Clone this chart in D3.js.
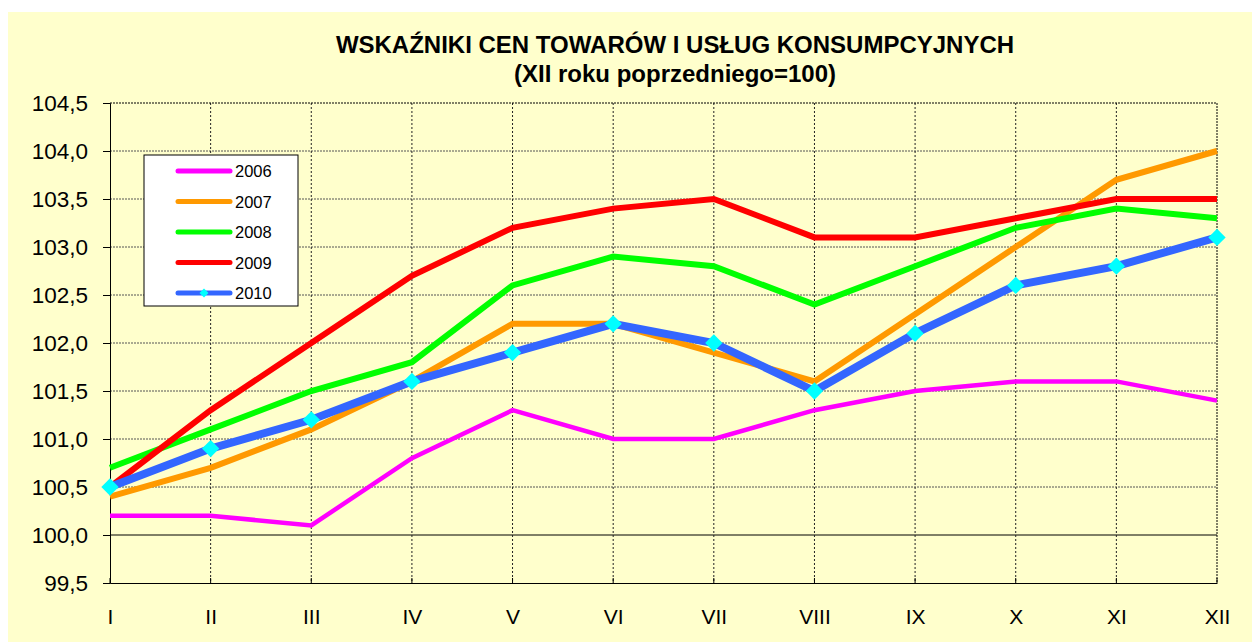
<!DOCTYPE html>
<html><head><meta charset="utf-8">
<script src="https://cdn.jsdelivr.net/npm/d3@7"></script>
<style>body{margin:0;background:#fff;}svg{display:block;font-family:Arial,"Liberation Sans",sans-serif;}</style>
</head><body><svg id="c" width="1252" height="642"></svg>
<script>
const months = ["I","II","III","IV","V","VI","VII","VIII","IX","X","XI","XII"];
const yTicks = [99.5,100.0,100.5,101.0,101.5,102.0,102.5,103.0,103.5,104.0,104.5];
const v2006 = [100.2,100.2,100.1,100.8,101.3,101.0,101.0,101.3,101.5,101.6,101.6,101.4];
const v2007 = [100.4,100.7,101.1,101.6,102.2,102.2,101.9,101.6,102.3,103.0,103.7,104.0];
const v2008 = [100.7,101.1,101.5,101.8,102.6,102.9,102.8,102.4,102.8,103.2,103.4,103.3];
const v2009 = [100.5,101.3,102.0,102.7,103.2,103.4,103.5,103.1,103.1,103.3,103.5,103.5];
const v2010 = [100.5,100.9,101.2,101.6,101.9,102.2,102.0,101.5,102.1,102.6,102.8,103.1];
const seriesNames = ["2006","2007","2008","2009","2010"];

const series = [
  {name:seriesNames[0], values:v2006, color:"#FF00FF", width:4.5},
  {name:seriesNames[1], values:v2007, color:"#FF9900", width:6},
  {name:seriesNames[2], values:v2008, color:"#00FF00", width:6},
  {name:seriesNames[3], values:v2009, color:"#FF0000", width:6},
  {name:seriesNames[4], values:v2010, color:"#3366FF", width:8, marker:true}
];

const svg = d3.select("#c");
svg.append("rect").attr("x",8).attr("y",12).attr("width",1244).attr("height",630).attr("fill","#FFFFCC");

const L=110,R=1217,T=103,B=583;
const x = d3.scalePoint().domain(months).range([L,R]);
const y = d3.scaleLinear().domain([99.5,104.5]).range([B,T]);

// title
svg.append("text").attr("x",675).attr("y",53).attr("text-anchor","middle")
  .attr("font-size",24).attr("font-weight","bold").text("WSKAŹNIKI CEN TOWARÓW I USŁUG KONSUMPCYJNYCH");
svg.append("text").attr("x",675).attr("y",82).attr("text-anchor","middle")
  .attr("font-size",24).attr("font-weight","bold").text("(XII roku poprzedniego=100)");

// grid
const g = svg.append("g");
g.selectAll("line.h").data(yTicks.filter(d=>d>99.5 && d<104.5)).join("line")
  .attr("x1",L).attr("x2",R).attr("y1",d=>y(d)).attr("y2",d=>y(d))
  .attr("stroke",d=>d===100?"#000":"#555").attr("stroke-width",1)
  .attr("stroke-dasharray",d=>d===100?null:"2,1");
g.selectAll("line.v").data(months.slice(1,11)).join("line")
  .attr("x1",d=>x(d)).attr("x2",d=>x(d)).attr("y1",T).attr("y2",B)
  .attr("stroke","#222").attr("stroke-width",1).attr("stroke-dasharray","2,2");
// frame
g.append("line").attr("x1",L).attr("x2",R).attr("y1",T).attr("y2",T).attr("stroke","#000").attr("stroke-dasharray","2,1");
g.append("line").attr("x1",R).attr("x2",R).attr("y1",T).attr("y2",B).attr("stroke","#000").attr("stroke-dasharray","2,1");

// y axis
const ya = svg.append("g").attr("transform",`translate(${L},0)`)
  .call(d3.axisLeft(y).tickValues(yTicks).tickSize(7).tickPadding(15)
    .tickFormat(d=>d3.format(".1f")(d).replace(".",",")));
ya.select(".domain").attr("stroke","#000");
ya.selectAll("text").attr("font-size",22.5).attr("font-family","Arial, 'Liberation Sans', sans-serif").attr("fill","#000");
// x axis
const xa = svg.append("g").attr("transform",`translate(0,${B})`)
  .call(d3.axisBottom(x).tickSize(0).tickPadding(26));
xa.select(".domain").attr("stroke","#000");
xa.selectAll("text").attr("font-size",21).attr("font-family","Arial, 'Liberation Sans', sans-serif").attr("fill","#000");
svg.append("g").selectAll("line").data(months).join("line")
  .attr("x1",d=>x(d)).attr("x2",d=>x(d)).attr("y1",B-5).attr("y2",B).attr("stroke","#000");

// lines
const line = d3.line().x((d,i)=>x(months[i])).y(d=>y(d));
series.forEach(s=>{
  svg.append("path").datum(s.values).attr("d",line).attr("fill","none")
    .attr("stroke",s.color).attr("stroke-width",s.width).attr("stroke-linejoin","miter");
  if(s.marker){
    svg.append("g").selectAll("path").data(s.values).join("path")
      .attr("d",d3.symbol(d3.symbolSquare,150)())
      .attr("transform",(d,i)=>`translate(${x(months[i])},${y(d)}) rotate(45)`)
      .attr("fill","#00FFFF");
  }
});

// legend
const lg = svg.append("g");
lg.append("rect").attr("x",144).attr("y",155).attr("width",154).attr("height",151)
  .attr("fill","#fff").attr("stroke","#000").attr("stroke-width",1);
series.forEach((s,i)=>{
  const yy = 171 + i*30.5;
  lg.append("line").attr("x1",178).attr("x2",230).attr("y1",yy).attr("y2",yy)
    .attr("stroke",s.color).attr("stroke-width",5).attr("stroke-linecap","round");
  if(s.marker){
    lg.append("path").attr("d",d3.symbol(d3.symbolSquare,40)())
      .attr("transform",`translate(204,${yy}) rotate(45)`).attr("fill","#00FFFF");
  }
  lg.append("text").attr("x",235).attr("y",yy+6).attr("font-size",16.5).text(s.name);
});
</script></body></html>
